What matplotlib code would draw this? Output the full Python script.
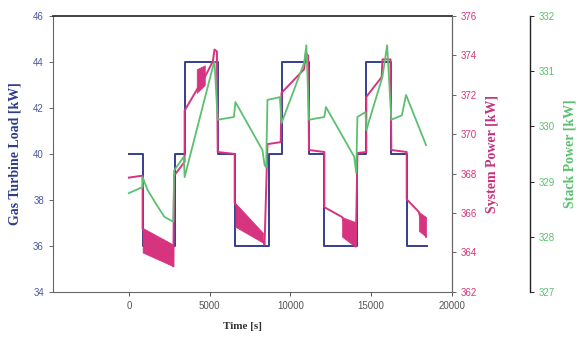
import matplotlib
matplotlib.use("Agg")
import matplotlib.pyplot as plt
import numpy as np

# gas turbine load (step profile), kW
gt_time = [0, 850, 2850, 3450, 5500, 6550, 8700, 9450, 11150, 12100, 14150, 14700, 16250, 17200, 18450]
gt_load = [40, 36, 40, 44, 40, 36, 40, 44, 40, 36, 40, 44, 40, 36, 36]

# system power, kW (main trace)
sys_time = [0, 850, 850, 2750, 2800, 3450, 3450, 4200, 4700, 5200, 5300, 5450, 5500,
            6550, 6550, 8300, 8400, 8580, 9400, 9450, 10850, 10950, 11100, 11150,
            12100, 12100, 13200, 14050, 14150, 14700, 14700, 15650, 15700, 16200, 16250,
            17200, 17200, 17950, 18400]
sys_power = [367.8, 367.9, 365.2, 363.3, 367.9, 368.6, 371.2, 372.25, 372.9, 373.7, 374.3, 374.2, 369.1,
             369.0, 366.5, 364.6, 364.4, 369.5, 369.6, 372.1, 373.3, 374.1, 374.0, 369.2,
             369.1, 366.3, 365.8, 364.3, 369.05, 369.1, 371.9, 372.9, 373.8, 373.8, 369.2,
             369.1, 366.7, 366.06, 364.8]

# oscillating bands of system power (upper / lower envelope)
band_time = [[850, 2750], [4200, 4700], [6600, 8300], [13200, 14000], [17950, 18400]]
band_top = [[365.25, 364.4], [373.3, 373.5], [366.5, 365.0], [365.8, 365.55], [366.06, 365.8]]
band_low = [[364.0, 363.3], [372.1, 372.5], [365.3, 364.5], [364.8, 364.3], [365.1, 364.8]]

# stack power, kW
stack_time = [0, 850, 850, 1150, 1650, 2200, 2750, 2800, 3400, 3450, 5200, 5300, 5500,
              6500, 6600, 8270, 8400, 8500, 8580, 9350, 9450, 10850, 10990, 11150,
              12100, 12200, 13950, 14074, 14150, 14650, 14700, 15700, 15990, 16250,
              16900, 17160, 18400]
stack_power = [328.79, 328.9, 329.08, 328.85, 328.61, 328.36, 328.27, 329.2, 329.45, 329.08, 331.08, 331.17, 330.12,
               330.17, 330.44, 329.57, 329.3, 329.26, 330.48, 330.53, 330.06, 331.15, 331.47, 330.12,
               330.17, 330.35, 329.45, 329.16, 330.17, 330.26, 329.93, 330.9, 331.47, 330.12,
               330.2, 330.57, 329.66]

blue = "#363e8e"
pink = "#d6347f"
green = "#5cc070"

fig = plt.figure(figsize=(5.79, 3.41), dpi=100)
ax = fig.add_axes([0.0915, 0.144, 0.689, 0.809])
ax2 = ax.twinx()
ax3 = ax.twinx()

ax.plot(gt_time, gt_load, drawstyle="steps-post", color=blue, lw=1.4)
ax.set_xlim(-4700, 20000)
ax.set_ylim(34, 46)
ax.set_xticks([0, 5000, 10000, 15000, 20000])
ax.set_yticks(np.arange(34, 47, 2))

ax2.plot(sys_time, sys_power, color=pink, lw=1.4)
for bt, top, low in zip(band_time, band_top, band_low):
    ax2.fill_between(bt, low, top, color=pink, lw=0.5)
ax2.set_ylim(362, 376)
ax2.set_yticks(np.arange(362, 377, 2))

ax3.plot(stack_time, stack_power, color=green, lw=1.3)
ax3.set_ylim(327, 332)
ax3.set_yticks(np.arange(327, 333, 1))
ax3.spines["right"].set_position(("axes", 1.195))

for s in ["left", "bottom", "right"]:
    ax.spines[s].set_color("#666666")
    ax.spines[s].set_linewidth(0.8)
ax.spines["top"].set_color("#222222")
ax.spines["top"].set_linewidth(1.2)
for s in ["left", "top", "bottom"]:
    ax2.spines[s].set_visible(False)
    ax3.spines[s].set_visible(False)
ax2.spines["right"].set_color("#666666")
ax2.spines["right"].set_linewidth(0.8)
ax3.spines["right"].set_color("#222222")
ax3.spines["right"].set_linewidth(1.0)

ax.tick_params(axis="y", colors="#4a5a9a", labelsize=7, length=3, width=0.7)
ax.tick_params(axis="x", colors="#555555", labelsize=7, length=3, width=0.7)
ax2.tick_params(axis="y", colors=pink, labelsize=7, length=3, width=0.7)
ax3.tick_params(axis="y", colors=green, labelsize=7, length=3, width=0.7)
ax.tick_params(axis="y", color="#666666")
ax2.tick_params(axis="y", color="#666666")
ax3.tick_params(axis="y", color="#222222")
for a in (ax, ax2, ax3):
    for t in a.get_xticklabels() + a.get_yticklabels():
        t.set_family("Liberation Sans")

lab = dict(family="Liberation Serif", fontweight="bold")
ax.set_ylabel("Gas Turbine Load [kW]", color="#2d3d8c", fontsize=10, labelpad=8, **lab)
ax2.set_ylabel("System Power [kW]", color="#c8307a", fontsize=10, labelpad=6, **lab)
ax3.set_ylabel("Stack Power [kW]", color=green, fontsize=10, labelpad=6, **lab)
ax.set_xlabel("Time [s]", color="#333333", fontsize=8, **lab)
ax.xaxis.set_label_coords(0.474, -0.11)

fig.savefig("out.png", dpi=100)
